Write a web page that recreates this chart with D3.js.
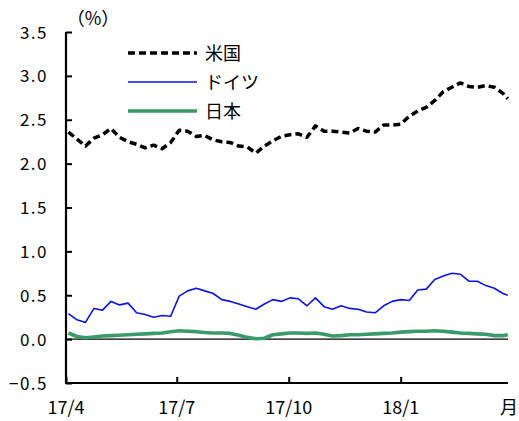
<!DOCTYPE html>
<html><head><meta charset="utf-8">
<script src="https://cdn.jsdelivr.net/npm/d3@7"></script>
<style>
body{margin:0;background:#fff;}
text{font-family:"Noto Sans CJK JP","Noto Sans",sans-serif;fill:#000;}
</style></head>
<body><svg id="c" width="519" height="421"></svg>
<script>
const startDate = "2017-04-03";
const endDate = "2018-03-30";
const seriesNames = ["米国", "ドイツ", "日本"];
const usValues = [2.36,2.28,2.20,2.29,2.33,2.40,2.30,2.25,2.22,2.18,2.21,2.17,2.24,2.38,2.37,2.31,2.32,2.27,2.25,2.24,2.20,2.19,2.12,2.20,2.26,2.31,2.33,2.34,2.30,2.43,2.37,2.37,2.36,2.35,2.40,2.37,2.36,2.44,2.44,2.45,2.54,2.60,2.64,2.72,2.82,2.87,2.92,2.88,2.87,2.89,2.87,2.80,2.74];
const deValues = [0.29,0.22,0.19,0.35,0.33,0.43,0.39,0.41,0.30,0.28,0.25,0.27,0.26,0.49,0.55,0.58,0.55,0.52,0.45,0.43,0.40,0.37,0.34,0.40,0.45,0.43,0.47,0.46,0.38,0.47,0.37,0.34,0.38,0.35,0.34,0.31,0.30,0.38,0.43,0.45,0.44,0.56,0.57,0.68,0.72,0.75,0.74,0.66,0.66,0.61,0.58,0.52,0.50];
const jpValues = [0.07,0.03,0.015,0.025,0.035,0.04,0.045,0.05,0.055,0.06,0.065,0.07,0.085,0.095,0.09,0.085,0.075,0.07,0.07,0.065,0.045,0.02,0.005,0.01,0.05,0.06,0.07,0.07,0.065,0.07,0.055,0.035,0.04,0.05,0.05,0.055,0.06,0.065,0.07,0.08,0.085,0.09,0.09,0.095,0.09,0.08,0.07,0.065,0.06,0.055,0.04,0.04,0.05];
const yTicks = [3.5,3.0,2.5,2.0,1.5,1.0,0.5,0.0,-0.5];
const xTickDates = ["2017-04-01","2017-07-01","2017-10-01","2018-01-01"];
const xTickLabels = ["17/4","17/7","17/10","18/1"];

const parse = d3.timeParse("%Y-%m-%d");
const dates = usValues.map((v,i)=> i < usValues.length-1 ? d3.timeDay.offset(parse(startDate), 7*i) : parse(endDate));

const svg = d3.select("#c");
const x = d3.scaleTime().domain([parse("2017-04-01"), parse("2018-03-31")]).range([66, 509]);
const y = d3.scaleLinear().domain([-0.5, 3.5]).range([383, 32]);

// zero line
svg.append("line").attr("x1",x.range()[0]).attr("x2",508).attr("y1",y(0)).attr("y2",y(0))
  .attr("stroke","#000").attr("stroke-width",1.2);

const line = d3.line().x((d,i)=>x(dates[i])).y(d=>y(d)).curve(d3.curveLinear);
const colors = ["#000","#0a14e6","#3a9a6a"];
const widths = [3.5,1.6,3.6];
const dashes = ["7,4",null,null];
[jpValues, deValues, usValues].forEach((vals, j) => {
  const k = 2 - j;
  svg.append("path").datum(vals).attr("d", line).attr("fill","none")
    .attr("stroke", colors[k]).attr("stroke-width", widths[k])
    .attr("stroke-dasharray", dashes[k]).attr("stroke-linejoin","round");
});

// axes
const yAxis = d3.axisRight(y).tickValues(yTicks).tickSize(6).tickFormat("");
const ga = svg.append("g").attr("transform","translate(66,0)").call(yAxis);
ga.select(".domain").attr("stroke-width",2.2).attr("d","M0,32V383");
ga.selectAll(".tick line").attr("stroke-width",2);
const fmt = v => (v < 0 ? "\u2212" : "") + d3.format(".1f")(Math.abs(v));
svg.selectAll(".ylab").data(yTicks).enter().append("text")
  .attr("x",48).attr("y",d=>y(d)+6.5).attr("text-anchor","end")
  .attr("font-size",17).attr("letter-spacing","1.5px").text(fmt);

const xAxis = d3.axisTop(x).tickValues(xTickDates.map(parse)).tickSize(6).tickFormat("");
const gx = svg.append("g").attr("transform","translate(0,383)").call(xAxis);
gx.select(".domain").attr("stroke-width",2.2).attr("d","M65,0H508");
gx.selectAll(".tick line").attr("stroke-width",2);
svg.selectAll(".xlab").data(xTickDates).enter().append("text")
  .attr("x",d=>x(parse(d))).attr("y",414).attr("text-anchor","middle")
  .attr("font-size",18).text((d,i)=>xTickLabels[i]);
svg.append("text").attr("x",509).attr("y",414).attr("text-anchor","middle").attr("font-size",18).text("月");
svg.append("text").attr("x",93).attr("y",25).attr("text-anchor","middle").attr("font-size",18).text("（%）");

// legend
const ly = [53,82,111];
seriesNames.forEach((n,k)=>{
  svg.append("line").attr("x1",128).attr("x2",197).attr("y1",ly[k]).attr("y2",ly[k])
    .attr("stroke",colors[k]).attr("stroke-width",widths[k]).attr("stroke-dasharray",dashes[k]);
  svg.append("text").attr("x",205).attr("y",ly[k]+6.5).attr("font-size",18).text(n);
});
</script></body></html>
